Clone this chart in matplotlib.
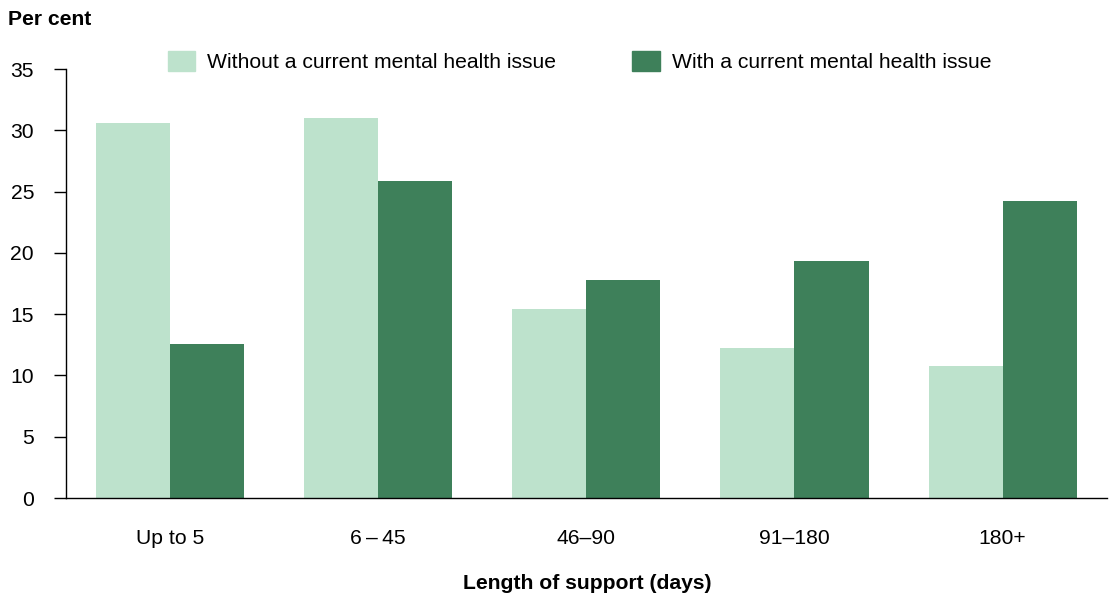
import numpy as np
import matplotlib.pyplot as plt
from matplotlib.patches import Patch

plt.rcParams['font.family'] = ['Liberation Sans', 'DejaVu Sans']

categories = ['Up to 5', '6\u2009\u2013\u200945', '46\u201390', '91\u2013180', '180+']
without_issue = [30.6, 31.0, 15.4, 12.2, 10.8]
with_issue = [12.6, 25.9, 17.8, 19.3, 24.2]
series_names = ['Without a current mental health issue', 'With a current mental health issue']

light = '#bde2cc'
dark = '#3e805a'
fs = 15.2

fig = plt.figure(figsize=(11.1, 5.97), dpi=100)
ax = fig.add_axes([0.0595, 0.1658, 0.9375, 0.7186])

x = np.arange(len(categories))
w = 0.356
ax.bar(x - w / 2, without_issue, w, color=light)
ax.bar(x + w / 2, with_issue, w, color=dark)

ax.set_xlim(-0.5, len(categories) - 0.5)
ax.set_ylim(0, 35)
ax.set_yticks(range(0, 36, 5))
ax.set_xticks(x)
ax.set_xticklabels(categories)
ax.tick_params(axis='x', length=0, pad=22, labelsize=fs)
ax.tick_params(axis='y', length=9, width=1, pad=14, labelsize=fs)
for s in ['top', 'right']:
    ax.spines[s].set_visible(False)
ax.spines['left'].set_linewidth(1)
ax.spines['bottom'].set_linewidth(1)

fig.text(0.007, 0.967, 'Per cent', fontsize=fs, fontweight='bold', va='center', ha='left')
fig.text(0.529, 0.023, 'Length of support (days)', fontsize=fs, fontweight='bold',
         va='center', ha='center')

handles = [Patch(color=light), Patch(color=dark)]
fig.legend(handles, series_names, ncol=2, loc='center left', bbox_to_anchor=(0.134, 0.897),
           frameon=False, fontsize=fs, handlelength=1.3, handleheight=1.1,
           handletextpad=0.58, columnspacing=3.6)

fig.savefig('out.png', dpi=100)
